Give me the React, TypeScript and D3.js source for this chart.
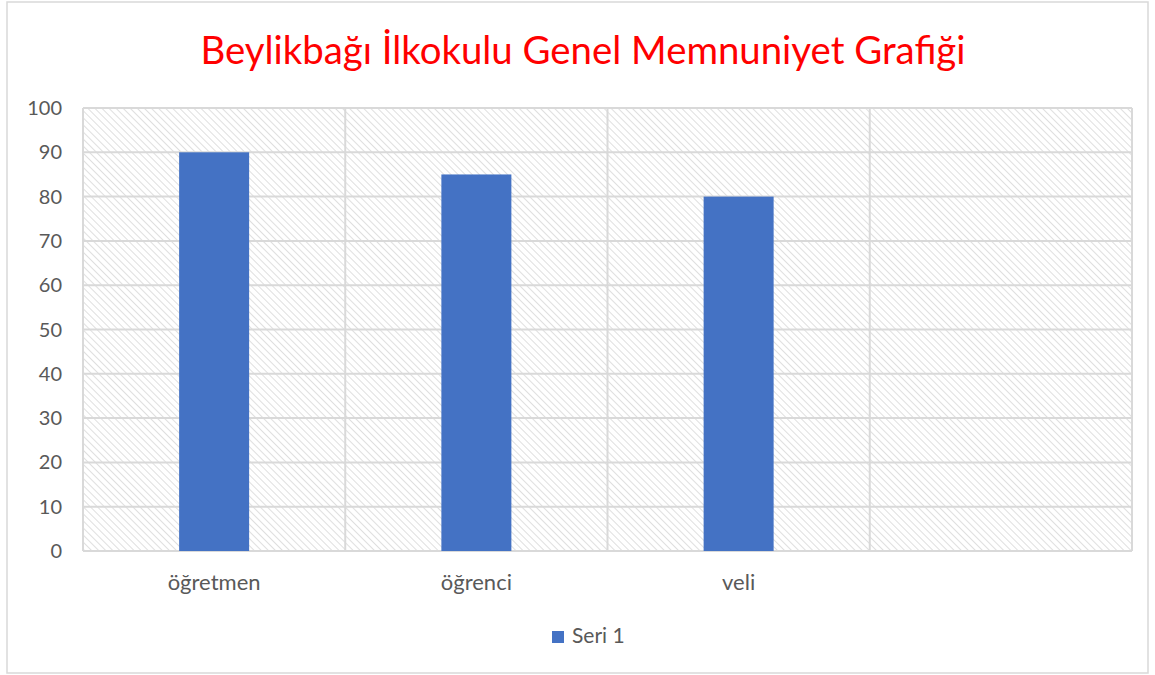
import React, { useEffect, useRef } from 'react';
import * as d3 from 'd3';

const categories = ['öğretmen', 'öğrenci', 'veli', ''];
const seriesName = 'Seri 1';
const seriesValues = [90, 85, 80, null];
const yTicks = [0, 10, 20, 30, 40, 50, 60, 70, 80, 90, 100];
const title = 'Beylikbağı İlkokulu Genel Memnuniyet Grafiği';

const App = () => {
  const ref = useRef<SVGSVGElement | null>(null);

  useEffect(() => {
    const svg = d3.select(ref.current);
    svg.selectAll('*').remove();

    const width = 1155;
    const height = 675;
    const left = 83;
    const right = 1132;
    const top = 108;
    const bottom = 551;
    const font = 'Lato, "Open Sans", sans-serif';

    // hatch pattern (\ direction)
    const defs = svg.append('defs');
    const pat = defs.append('pattern')
      .attr('id', 'hatch')
      .attr('patternUnits', 'userSpaceOnUse')
      .attr('width', 5)
      .attr('height', 5)
      .attr('patternTransform', 'rotate(-45)');
    pat.append('rect').attr('width', 5).attr('height', 5).attr('fill', '#fff');
    pat.append('line')
      .attr('x1', 0).attr('y1', 0).attr('x2', 0).attr('y2', 5)
      .attr('stroke', '#dcdcdc').attr('stroke-width', 1.8);

    svg.append('rect')
      .attr('x', 0).attr('y', 0).attr('width', width).attr('height', height)
      .attr('fill', '#fff');
    svg.append('rect')
      .attr('x', 7).attr('y', 2).attr('width', 1141).attr('height', 671)
      .attr('fill', '#fff').attr('stroke', '#d9d9d9').attr('stroke-width', 1.5);

    const x = d3.scaleBand<string>()
      .domain(categories.map((c, i) => String(i)))
      .range([left, right])
      .paddingInner(0)
      .paddingOuter(0);
    const y = d3.scaleLinear().domain([0, 100]).range([bottom, top]);

    svg.append('rect')
      .attr('x', left).attr('y', top)
      .attr('width', right - left).attr('height', bottom - top)
      .attr('fill', 'url(#hatch)');

    // horizontal grid
    svg.append('g').selectAll('line').data(yTicks).join('line')
      .attr('x1', left).attr('x2', right)
      .attr('y1', d => y(d)).attr('y2', d => y(d))
      .attr('stroke', '#d9d9d9').attr('stroke-width', 2);

    // vertical grid
    const bounds = categories.map((c, i) => x(String(i)) as number).concat([right]);
    svg.append('g').selectAll('line').data(bounds).join('line')
      .attr('x1', d => d).attr('x2', d => d)
      .attr('y1', top).attr('y2', bottom)
      .attr('stroke', '#d9d9d9').attr('stroke-width', 2);

    // bars
    const bw = 70;
    svg.append('g').selectAll('rect')
      .data(seriesValues.map((v, i) => ({ v, i })).filter(d => d.v != null))
      .join('rect')
      .attr('x', d => (x(String(d.i)) as number) + x.bandwidth() / 2 - bw / 2)
      .attr('y', d => y(d.v as number))
      .attr('width', bw)
      .attr('height', d => bottom - y(d.v as number))
      .attr('fill', '#4472C4');

    // y tick labels
    svg.append('g').selectAll('text').data(yTicks).join('text')
      .attr('x', 62).attr('y', d => y(d) + 7)
      .attr('text-anchor', 'end')
      .attr('font-family', font).attr('font-size', 20)
      .attr('fill', '#595959')
      .text(d => d);

    // category labels
    svg.append('g').selectAll('text').data(categories).join('text')
      .attr('x', (d, i) => (x(String(i)) as number) + x.bandwidth() / 2)
      .attr('y', 590)
      .attr('text-anchor', 'middle')
      .attr('font-family', font).attr('font-size', 22)
      .attr('fill', '#595959')
      .text(d => d);

    // title
    svg.append('text')
      .attr('x', 583).attr('y', 64)
      .attr('text-anchor', 'middle')
      .attr('font-family', font).attr('font-size', 38)
      .attr('textLength', 765)
      .attr('lengthAdjust', 'spacingAndGlyphs')
      .attr('fill', '#ff0000')
      .text(title);

    // legend
    svg.append('rect')
      .attr('x', 552).attr('y', 631).attr('width', 12).attr('height', 12)
      .attr('fill', '#4472C4');
    svg.append('text')
      .attr('x', 572).attr('y', 643)
      .attr('font-family', font).attr('font-size', 21)
      .attr('fill', '#595959')
      .text(seriesName);
  }, []);

  return (
    <svg ref={ref} width={1155} height={675}
      style={{ position: 'absolute', left: 0, top: 0 }} />
  );
};

export default App;
